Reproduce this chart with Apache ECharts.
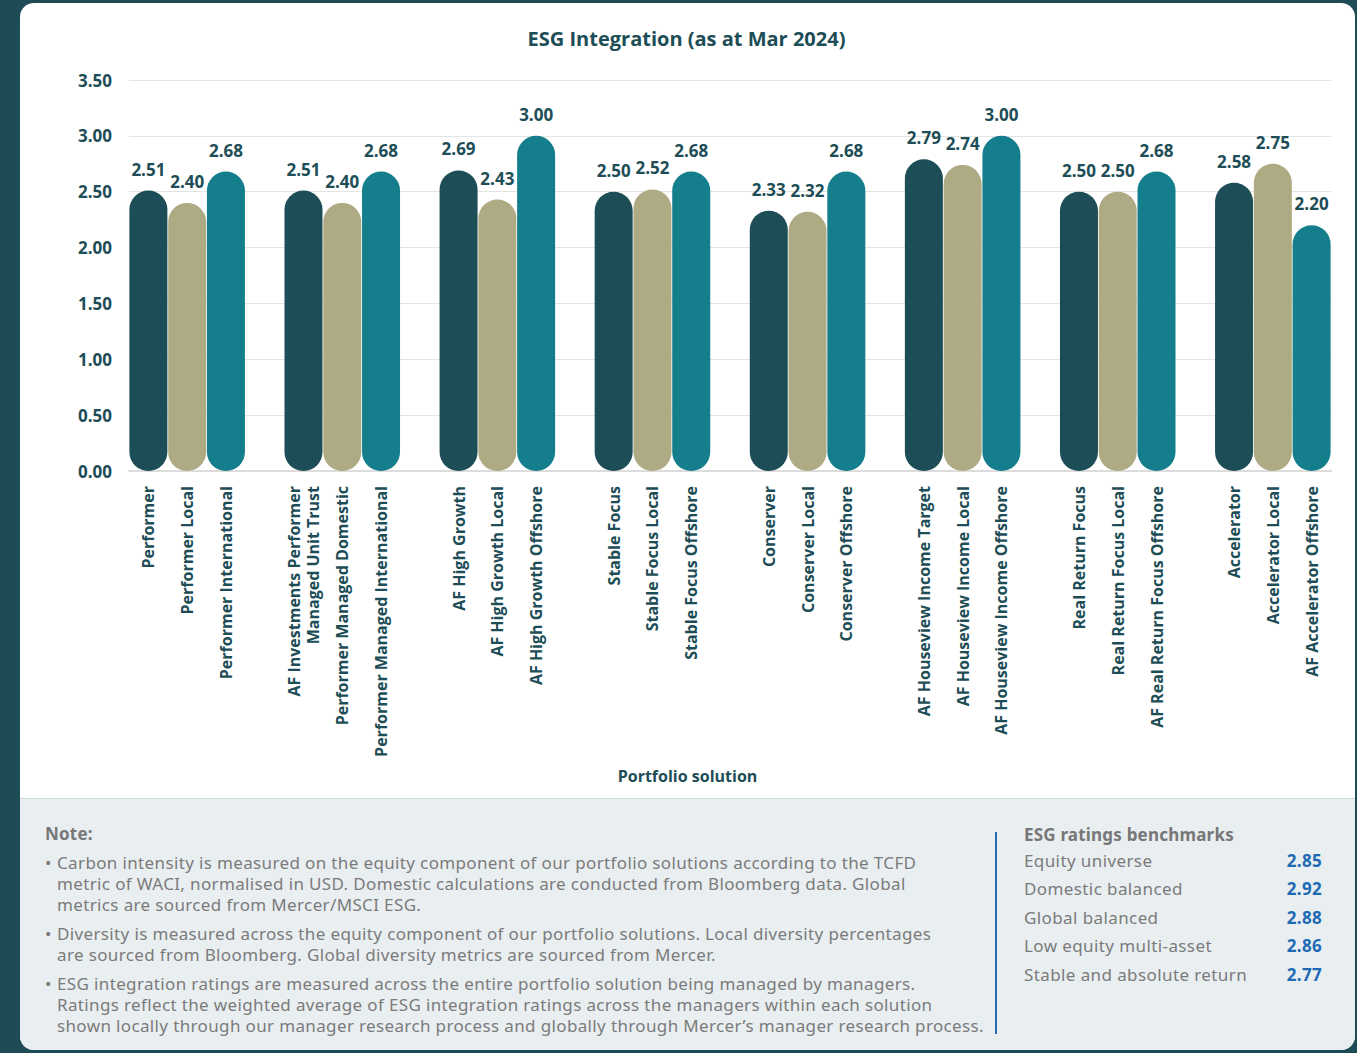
<!DOCTYPE html>
<html>
<head>
<meta charset="utf-8">
<script src="https://cdn.jsdelivr.net/npm/echarts@6/dist/echarts.min.js"></script>
<style>
  html, body { margin: 0; padding: 0; }
  body { width: 1357px; height: 1053px; background: #1d4c56; position: relative; overflow: hidden; font-family: "Noto Sans", sans-serif; }
  .card { position: absolute; left: 20px; top: 3px; width: 1335px; height: 1047px; background: #ffffff; border-radius: 14px; overflow: hidden; }
  .foot { position: absolute; left: 0; top: 795px; width: 100%; height: 252px; background: #e9eef1; border-top: 1px solid #c9d6dc; }
  #chart { position: absolute; left: 0; top: 0; width: 1357px; height: 798px; }
  .note { position: absolute; left: 25px; top: 25px; color: #7b7b7b; font-size: 17px; letter-spacing: 0.36px; }
  .note h4 { margin: 0 0 8px 0; font-size: 17px; font-weight: 700; color: #777; line-height: 20px; letter-spacing: 0.2px; }
  .note ul { margin: 0; padding: 0; list-style: none; }
  .note li { position: relative; padding-left: 12px; line-height: 21px; margin-bottom: 8px; white-space: nowrap; }
  .note li::before { content: "\2022"; position: absolute; left: 0; top: 0; }
  .bench { position: absolute; left: 975px; top: 33px; width: 330px; height: 202px; border-left: 2px solid #2a6db5; }
  .bench h4 { margin: -9px 0 0 27px; font-size: 17px; font-weight: 700; color: #777; line-height: 24px; letter-spacing: 0.2px; }
  .bench .row { position: relative; margin-left: 27px; height: 28.4px; line-height: 28.4px; color: #7b7b7b; font-size: 17px; letter-spacing: 0.4px; }
  .bench .row b { position: absolute; right: 5px; top: 0; color: #1f6ab4; font-weight: 700; letter-spacing: 0.3px; }
</style>
</head>
<body>
<div class="card">
  <div class="foot">
    <div class="note">
      <h4>Note:</h4>
      <ul id="notes"></ul>
    </div>
    <div class="bench">
      <h4>ESG ratings benchmarks</h4>
      <div id="benchRows"></div>
    </div>
  </div>
</div>
<div id="chart"></div>
<script>
// Portfolio solutions, three per family
const categories = [
  'Performer', 'Performer Local', 'Performer International',
  'AF Investments Performer\nManaged Unit Trust', 'Performer Managed Domestic', 'Performer Managed International',
  'AF High Growth', 'AF High Growth Local', 'AF High Growth Offshore',
  'Stable Focus', 'Stable Focus Local', 'Stable Focus Offshore',
  'Conserver', 'Conserver Local', 'Conserver Offshore',
  'AF Houseview Income Target', 'AF Houseview Income Local', 'AF Houseview Income Offshore',
  'Real Return Focus', 'Real Return Focus Local', 'AF Real Return Focus Offshore',
  'Accelerator', 'Accelerator Local', 'AF Accelerator Offshore'
];
// ESG integration rating per solution
const values = [
  2.51, 2.40, 2.68,
  2.51, 2.40, 2.68,
  2.69, 2.43, 3.00,
  2.50, 2.52, 2.68,
  2.33, 2.32, 2.68,
  2.79, 2.74, 3.00,
  2.50, 2.50, 2.68,
  2.58, 2.75, 2.20
];
const yTicks = ['0.00', '0.50', '1.00', '1.50', '2.00', '2.50', '3.00', '3.50'];

const benchmarkNames = ['Equity universe', 'Domestic balanced', 'Global balanced', 'Low equity multi-asset', 'Stable and absolute return'];
const benchmarkValues = [2.85, 2.92, 2.88, 2.86, 2.77];

const notes = [
  'Carbon intensity is measured on the equity component of our portfolio solutions according to the TCFD\nmetric of WACI, normalised in USD. Domestic calculations are conducted from Bloomberg data. Global\nmetrics are sourced from Mercer/MSCI ESG.',
  'Diversity is measured across the equity component of our portfolio solutions. Local diversity percentages\nare sourced from Bloomberg. Global diversity metrics are sourced from Mercer.',
  'ESG integration ratings are measured across the entire portfolio solution being managed by managers.\nRatings reflect the weighted average of ESG integration ratings across the managers within each solution\nshown locally through our manager research process and globally through Mercer\u2019s manager research process.'
];

// footer text
const ul = document.getElementById('notes');
notes.forEach(t => {
  const li = document.createElement('li');
  t.split('\n').forEach((line, i) => {
    if (i) li.appendChild(document.createElement('br'));
    li.appendChild(document.createTextNode(line));
  });
  ul.appendChild(li);
});
const rows = document.getElementById('benchRows');
benchmarkNames.forEach((n, i) => {
  const d = document.createElement('div');
  d.className = 'row';
  d.textContent = n;
  const b = document.createElement('b');
  b.textContent = benchmarkValues[i].toFixed(2);
  d.appendChild(b);
  rows.appendChild(d);
});

// bar palette cycles within each family
const palette = ['#1d4d56', '#aeaa83', '#147e8c'];
const ink = '#1d4d56';
const face = 'Open Sans';

// lay the families out on one category axis with a blank slot between them
const axisCats = [];
const barData = [];
categories.forEach((c, i) => {
  if (i > 0 && i % 3 === 0) { axisCats.push(''); barData.push('-'); }
  axisCats.push(c);
  barData.push({ value: values[i], itemStyle: { color: palette[i % 3] } });
});

const cardCenter = 20 + 1335 / 2;

const chart = echarts.init(document.getElementById('chart'), null, { renderer: 'svg' });
chart.setOption({
  backgroundColor: 'transparent',
  textStyle: { fontFamily: face },
  title: [{
    text: 'ESG Integration (as at Mar 2024)',
    left: cardCenter - 6, top: 23, textAlign: 'center',
    textStyle: { color: ink, fontSize: 20, fontWeight: 700, fontFamily: face }
  }, {
    text: 'Portfolio solution',
    left: cardCenter - 5, top: 763, textAlign: 'center',
    textStyle: { color: ink, fontSize: 16, fontWeight: 700, fontFamily: face }
  }],
  grid: { left: 129, right: 26, top: 80, bottom: 327, containLabel: false },
  xAxis: {
    type: 'category',
    data: axisCats,
    axisLine: { lineStyle: { color: '#dcdcdc', width: 2 } },
    axisTick: { show: false },
    axisLabel: {
      interval: 0, rotate: 90, margin: 15,
      color: ink, fontSize: 16, fontWeight: 700, lineHeight: 19, fontFamily: face
    }
  },
  yAxis: {
    type: 'value', min: 0, max: 3.5, interval: 0.5,
    axisLine: { show: false }, axisTick: { show: false },
    splitLine: { lineStyle: { color: '#e3e3e3', width: 1 } },
    axisLabel: {
      margin: 17, color: ink, fontSize: 17, fontWeight: 700, fontFamily: face,
      formatter: v => yTicks[Math.round(v / 0.5)]
    }
  },
  series: [{
    type: 'bar',
    data: barData,
    barWidth: 38,
    itemStyle: { borderRadius: 19 },
    label: {
      show: true, position: 'top', distance: 13,
      color: ink, fontSize: 17, fontWeight: 700, fontFamily: face,
      formatter: p => Number(p.value).toFixed(2)
    }
  }]
});
</script>
</body>
</html>
